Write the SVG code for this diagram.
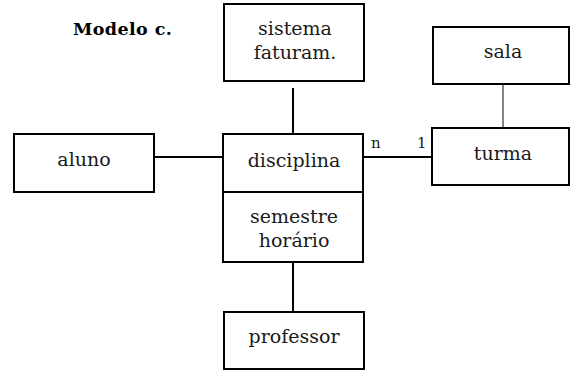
<svg xmlns="http://www.w3.org/2000/svg" width="571" height="372" viewBox="0 0 571 372">
  <style>
    .box { fill: #ffffff; stroke: #000000; stroke-width: 2; }
    .lbl { font-family: "DejaVu Serif", "Liberation Serif", serif; font-size: 19px; fill: #1a1a1a; text-anchor: middle; }
    .card { font-family: "DejaVu Serif", "Liberation Serif", serif; font-size: 15px; fill: #1a1a1a; }
    .title { font-family: "DejaVu Serif", "Liberation Serif", serif; font-size: 17.5px; font-weight: bold; fill: #000000; letter-spacing: 0.4px; }
    .link { stroke: #000000; stroke-width: 2; fill: none; }
    .thin { stroke: #333333; stroke-width: 1.2; fill: none; }
  </style>

  <rect width="571" height="372" fill="#ffffff"/>

  <text class="title" x="73" y="35">Modelo c.</text>

  <!-- connectors -->
  <g id="connectors">
    <line class="link" x1="293" y1="88" x2="293" y2="134"/>
    <line class="link" x1="154" y1="157" x2="223" y2="157"/>
    <line class="link" x1="363" y1="157" x2="432" y2="157"/>
    <line class="link" x1="293" y1="262" x2="293" y2="312"/>
    <line class="thin" x1="503" y1="84" x2="503" y2="128"/>
    <text class="card" x="371" y="148">n</text>
    <text class="card" x="417" y="148">1</text>
  </g>

  <g id="sistema">
    <rect class="box" x="224" y="4" width="140" height="77"/>
    <text class="lbl" x="295" y="35">sistema</text>
    <text class="lbl" x="295" y="59">faturam.</text>
  </g>

  <g id="aluno">
    <rect class="box" x="14" y="134" width="140" height="58"/>
    <text class="lbl" x="84" y="166">aluno</text>
  </g>

  <g id="disciplina">
    <rect class="box" x="223" y="134" width="140" height="128"/>
    <line class="link" x1="223" y1="192" x2="363" y2="192"/>
    <text class="lbl" x="294" y="167">disciplina</text>
    <text class="lbl" x="294" y="223">semestre</text>
    <text class="lbl" x="294" y="247">horário</text>
  </g>

  <g id="sala">
    <rect class="box" x="433" y="27" width="136" height="57"/>
    <text class="lbl" x="503" y="58">sala</text>
  </g>

  <g id="turma">
    <rect class="box" x="432" y="128" width="137" height="57"/>
    <text class="lbl" x="503" y="160">turma</text>
  </g>

  <g id="professor">
    <rect class="box" x="224" y="312" width="140" height="57"/>
    <text class="lbl" x="294" y="343">professor</text>
  </g>
</svg>
